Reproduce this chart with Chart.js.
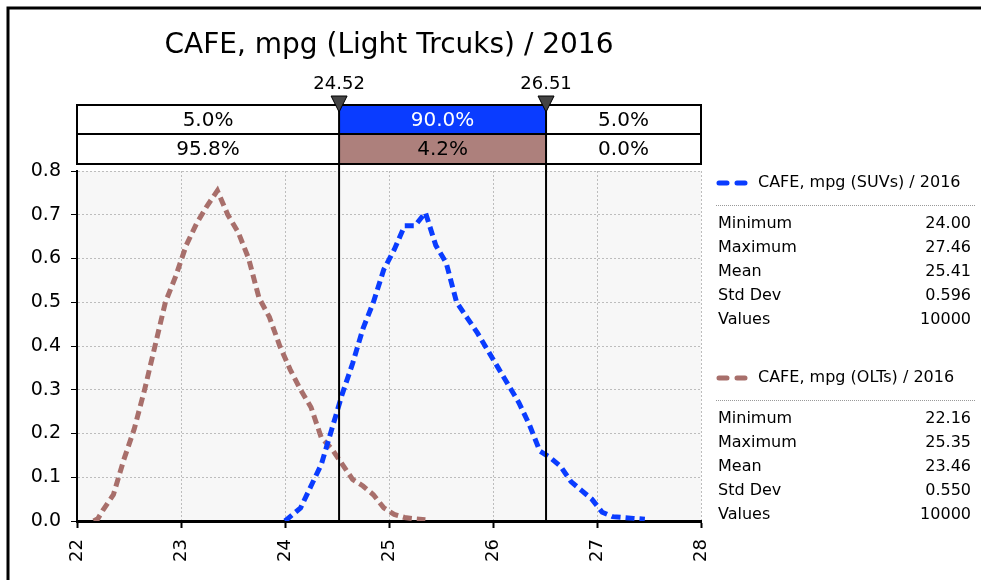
<!DOCTYPE html>
<html>
<head>
<meta charset="utf-8">
<script src="https://cdn.jsdelivr.net/npm/chart.js@4/dist/chart.umd.min.js"></script>
<style>
  html, body { margin: 0; padding: 0; background: #fff; }
  #wrap { width: 981px; height: 580px; }
</style>
</head>
<body>
<div id="wrap"><canvas id="cafeChart" width="981" height="580"></canvas></div>
<script>
// chart title and axis ticks
var chartTitle = 'CAFE, mpg (Light Trcuks) / 2016';
var xTicks = [22, 23, 24, 25, 26, 27, 28];
var yTicks = [0.0, 0.1, 0.2, 0.3, 0.4, 0.5, 0.6, 0.7, 0.8];

// SUV series (density outline)
var suvName = 'CAFE, mpg (SUVs) / 2016';
var suvX = [24.00, 24.05, 24.15, 24.25, 24.35, 24.45, 24.55, 24.65, 24.75, 24.85, 24.95, 25.05,
            25.15, 25.25, 25.35, 25.45, 25.55, 25.65, 25.75, 25.85, 25.95, 26.05, 26.15, 26.25,
            26.35, 26.45, 26.55, 26.65, 26.75, 26.85, 26.95, 27.05, 27.15, 27.25, 27.35, 27.46];
var suvY = [0, 0.01, 0.03, 0.08, 0.13, 0.21, 0.29, 0.36, 0.44, 0.50, 0.575, 0.62,
            0.675, 0.675, 0.705, 0.63, 0.59, 0.50, 0.465, 0.43, 0.39, 0.35, 0.31, 0.27,
            0.22, 0.16, 0.145, 0.125, 0.09, 0.07, 0.05, 0.02, 0.01, 0.008, 0.006, 0.004];

// OLT series (density outline)
var oltName = 'CAFE, mpg (OLTs) / 2016';
var oltX = [22.16, 22.20, 22.25, 22.35, 22.45, 22.55, 22.65, 22.75, 22.85, 22.95, 23.05, 23.15,
            23.25, 23.35, 23.45, 23.55, 23.65, 23.75, 23.85, 23.95, 24.05, 24.15, 24.25, 24.35,
            24.45, 24.55, 24.65, 24.75, 24.85, 24.95, 25.05, 25.15, 25.25, 25.35];
var oltY = [0, 0.005, 0.025, 0.06, 0.14, 0.21, 0.30, 0.40, 0.50, 0.56, 0.63, 0.68,
            0.72, 0.755, 0.70, 0.66, 0.60, 0.51, 0.466, 0.40, 0.346, 0.30, 0.26, 0.19,
            0.165, 0.13, 0.095, 0.08, 0.06, 0.03, 0.015, 0.008, 0.005, 0.003];

// delimiters and the percentages shown in the band above the plot
var markers = [24.52, 26.51];
var suvPct = ['5.0%', '90.0%', '5.0%'];
var oltPct = ['95.8%', '4.2%', '0.0%'];

// summary statistics
var statLabels = ['Minimum', 'Maximum', 'Mean', 'Std Dev', 'Values'];
var suvStats = ['24.00', '27.46', '25.41', '0.596', '10000'];
var oltStats = ['22.16', '25.35', '23.46', '0.550', '10000'];

var blue = '#0a3cff';
var brown = '#a86f6b';
var brownFill = '#ad807c';
var font = '"DejaVu Sans", Verdana, sans-serif';

function toPoints(xs, ys) {
    var pts = [];
    for (var i = 0; i < xs.length; i++) pts.push({x: xs[i], y: ys[i]});
    return pts;
}

var decorations = {
    id: 'decorations',
    beforeDraw: function (chart) {
        var c = chart.ctx, a = chart.chartArea;
        c.save();
        c.fillStyle = '#fff';
        c.fillRect(0, 0, chart.width, chart.height);
        c.fillStyle = '#f7f7f7';
        c.fillRect(a.left, a.top, a.right - a.left, a.bottom - a.top);
        c.restore();
    },
    afterDraw: function (chart) {
        var c = chart.ctx, a = chart.chartArea, xs = chart.scales.x;
        c.save();

        // outer frame
        c.strokeStyle = '#000';
        c.lineWidth = 3;
        c.beginPath();
        c.moveTo(8, chart.height);
        c.lineTo(8, 8);
        c.lineTo(chart.width, 8);
        c.stroke();

        // title
        c.fillStyle = '#000';
        c.font = '28px ' + font;
        c.textAlign = 'center';
        c.textBaseline = 'middle';
        c.fillText(chartTitle, 389, 46);

        // percentage band
        var top = 105, mid = 134, bot = 164;
        var cols = [a.left, xs.getPixelForValue(markers[0]), xs.getPixelForValue(markers[1]), a.right];
        c.fillStyle = blue;
        c.fillRect(cols[1], top, cols[2] - cols[1], mid - top);
        c.fillStyle = brownFill;
        c.fillRect(cols[1], mid, cols[2] - cols[1], bot - mid);
        c.strokeStyle = '#000';
        c.lineWidth = 2;
        c.strokeRect(cols[0], top, cols[3] - cols[0], bot - top);
        c.beginPath();
        c.moveTo(cols[0], mid); c.lineTo(cols[3], mid);
        c.stroke();

        c.font = '20px ' + font;
        for (var i = 0; i < 3; i++) {
            var cx = (cols[i] + cols[i + 1]) / 2;
            c.fillStyle = i === 1 ? '#fff' : '#000';
            c.fillText(suvPct[i], cx, (top + mid) / 2 + 1);
            c.fillStyle = '#000';
            c.fillText(oltPct[i], cx, (mid + bot) / 2 + 1);
        }

        // delimiter lines, triangles and labels
        for (var m = 0; m < markers.length; m++) {
            var px = cols[m + 1];
            c.strokeStyle = '#000';
            c.lineWidth = 2;
            c.beginPath();
            c.moveTo(px, top); c.lineTo(px, a.bottom);
            c.stroke();
            c.fillStyle = '#444';
            c.lineWidth = 1;
            c.beginPath();
            c.moveTo(px - 8, 96); c.lineTo(px + 8, 96); c.lineTo(px, 112);
            c.closePath();
            c.fill();
            c.stroke();
            c.fillStyle = '#000';
            c.font = '18px ' + font;
            c.fillText(markers[m].toFixed(2), px, 84);
        }

        // legends with statistics
        drawLegend(c, 183, blue, suvName, suvStats);
        drawLegend(c, 378, brown, oltName, oltStats);
        c.restore();
    }
};

function drawLegend(c, y, color, name, stats) {
    c.strokeStyle = color;
    c.lineWidth = 5;
    c.lineCap = 'round';
    c.beginPath();
    c.moveTo(719, y); c.lineTo(727, y);
    c.moveTo(737, y); c.lineTo(745, y);
    c.stroke();
    c.lineCap = 'butt';
    c.fillStyle = '#000';
    c.font = '16px ' + font;
    c.textAlign = 'left';
    c.textBaseline = 'middle';
    c.fillText(name, 758, y);
    c.strokeStyle = '#999';
    c.lineWidth = 1;
    c.setLineDash([1, 1]);
    c.beginPath();
    c.moveTo(716, y + 22.5); c.lineTo(975, y + 22.5);
    c.stroke();
    c.setLineDash([]);
    for (var i = 0; i < statLabels.length; i++) {
        var ry = y + 41 + i * 24;
        c.textAlign = 'left';
        c.fillText(statLabels[i], 718, ry);
        c.textAlign = 'right';
        c.fillText(stats[i], 971, ry);
    }
}

var ctx = document.getElementById('cafeChart').getContext('2d');
var cafeChart = new Chart(ctx, {
    type: 'line',
    data: {
        datasets: [{
            label: suvName,
            data: toPoints(suvX, suvY),
            borderColor: blue,
            borderWidth: 5,
            borderDash: [9, 5],
            pointRadius: 0,
            tension: 0,
            fill: false
        }, {
            label: oltName,
            data: toPoints(oltX, oltY),
            borderColor: brown,
            borderWidth: 5,
            borderDash: [9, 5],
            pointRadius: 0,
            tension: 0,
            fill: false
        }]
    },
    options: {
        responsive: false,
        animation: false,
        layout: { padding: { left: 0, right: 280, top: 171, bottom: 0 } },
        plugins: {
            legend: { display: false },
            tooltip: { enabled: false },
            title: { display: false }
        },
        scales: {
            x: {
                type: 'linear',
                min: xTicks[0],
                max: xTicks[xTicks.length - 1],
                afterBuildTicks: function (s) { s.ticks = xTicks.map(function (v) { return {value: v}; }); },
                afterFit: function (s) { s.height = 59; },
                ticks: {
                    color: '#000',
                    font: { family: font, size: 18 },
                    minRotation: 90,
                    maxRotation: 90,
                    padding: 11,
                    callback: function (v) { return String(v); }
                },
                grid: { color: '#bdbdbd', tickColor: '#000', tickLength: 7, tickWidth: 2, tickBorderDash: [] },
                border: { display: true, color: '#000', width: 3, dash: [2, 2] }
            },
            y: {
                min: yTicks[0],
                max: yTicks[yTicks.length - 1],
                afterBuildTicks: function (s) { s.ticks = yTicks.map(function (v) { return {value: v}; }); },
                afterFit: function (s) { s.width = 77; },
                ticks: {
                    color: '#000',
                    font: { family: font, size: 19 },
                    padding: 10,
                    callback: function (v) { return Number(v).toFixed(1); }
                },
                grid: { color: '#bdbdbd', tickColor: '#000', tickLength: 6, tickWidth: 1, tickBorderDash: [] },
                border: { display: true, color: '#000', width: 2, dash: [2, 2] }
            }
        }
    },
    plugins: [decorations]
});
</script>
</body>
</html>
